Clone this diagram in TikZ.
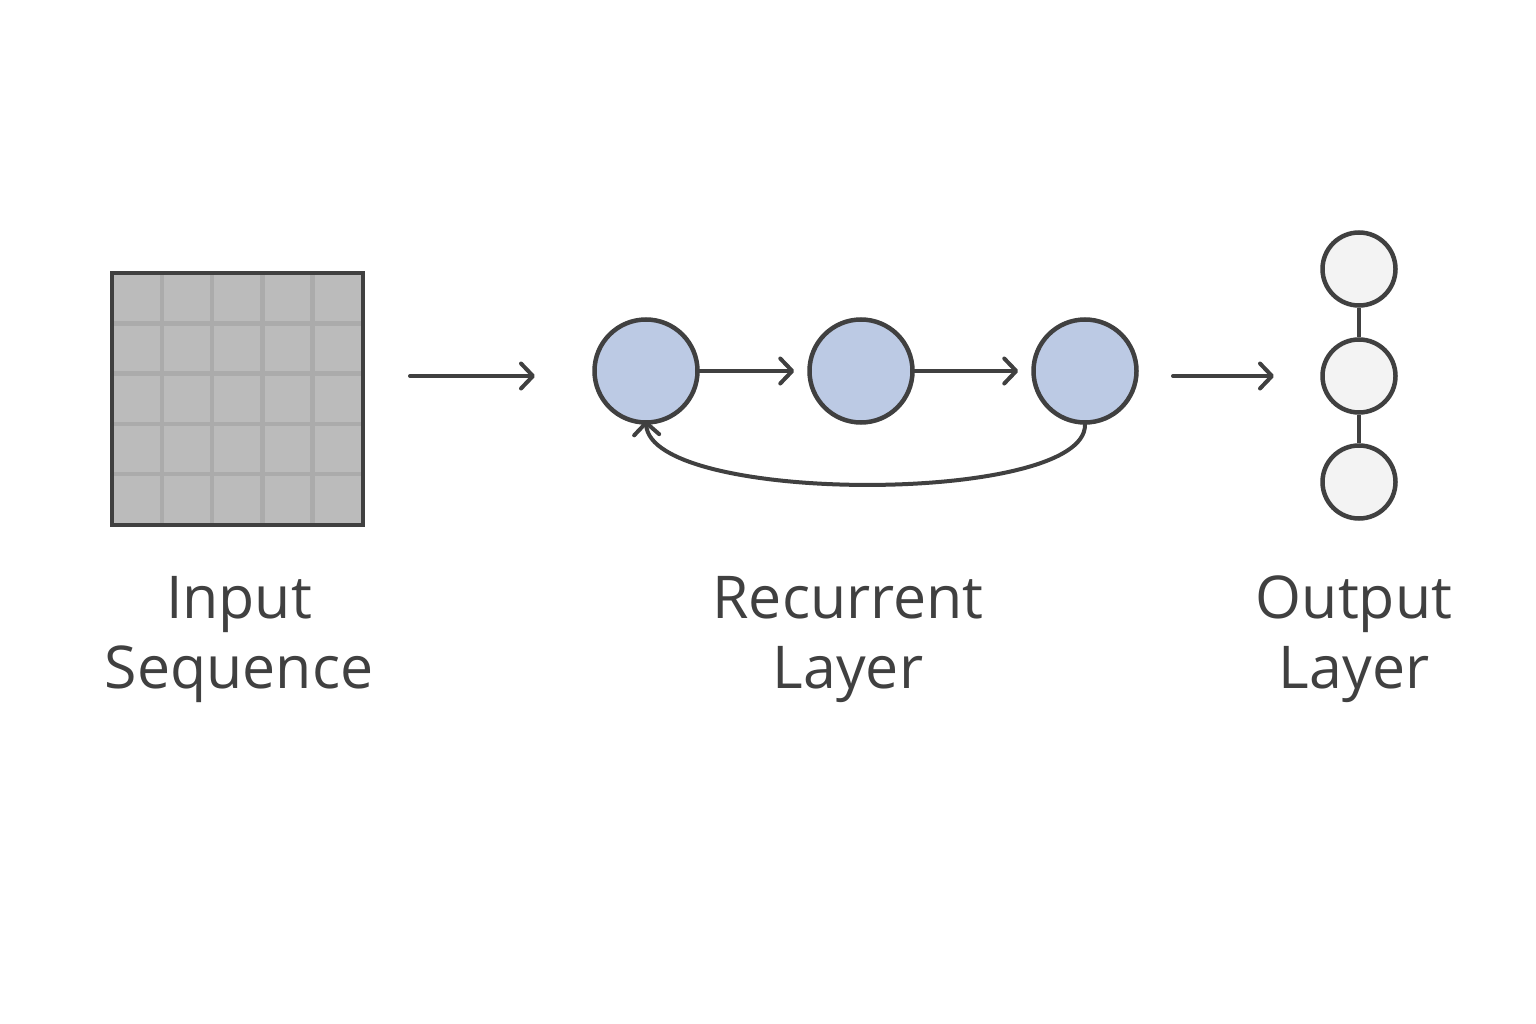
\documentclass[tikz,border=0pt]{standalone}
\usepackage{fontspec}
\setmainfont{Open Sans}
\usetikzlibrary{arrows.meta,calc}
\definecolor{ink}{HTML}{404040}
\definecolor{cellfill}{HTML}{BBBBBB}
\definecolor{cellline}{HTML}{ABABAB}
\definecolor{recfill}{HTML}{BCCAE4}
\definecolor{outfill}{HTML}{F3F3F3}
\tikzset{
  tip/.style={-{Straight Barb[length=12pt,width=25pt,line width=4pt,round]}},
  arr/.style={draw=ink, line width=4pt, line cap=round, tip},
  recnode/.style={circle, draw=ink, line width=4.5pt, fill=recfill, minimum size=103pt, inner sep=0pt},
  outnode/.style={circle, draw=ink, line width=4.5pt, fill=outfill, minimum size=73pt, inner sep=0pt},
  lbl/.style={text=ink, font=\fontsize{59}{70}\selectfont, align=center, inner sep=0pt},
}
\begin{document}
\begin{tikzpicture}[x=1pt,y=-1pt]
\useasboundingbox (0,0) rectangle (1536,1024);
\fill[white] (0,0) rectangle (1536,1024);
% grid
\node[fill=cellfill, minimum size=251pt, inner sep=0pt] (grid) at (237.5,399) {};
\foreach \i in {1,2,3,4}{
  \draw[cellline, line width=4.5pt] ($(grid.north west)+(\i*50.2,2)$) -- ($(grid.south west)+(\i*50.2,-2)$);
  \draw[cellline, line width=4.5pt] ($(grid.north west)+(2,\i*50.2)$) -- ($(grid.north east)+(-2,\i*50.2)$);
}
\draw[draw=ink, line width=4pt] (grid.north west) rectangle (grid.south east);
% arrow 1
\coordinate (a1s) at (410,376);
\coordinate (a1e) at (535,376);
\draw[arr] (a1s) -- (a1e);
% recurrent nodes
\node[recnode] (r1) at (646,371) {};
\node[recnode] (r2) at (861,371) {};
\node[recnode] (r3) at (1085,371) {};
\draw[arr, shorten >=13pt] (r1) -- (r2);
\draw[arr, shorten >=13pt] (r2) -- (r3);
\draw[arr]
  (r3.south) .. controls (1086,505) and (650,505) .. ([yshift=4pt]r1.south);
% arrow 3
\coordinate (a3s) at (1173,376);
\coordinate (a3e) at (1274,376);
\draw[arr] (a3s) -- (a3e);
% output nodes
\node[outnode] (o1) at (1359,269) {};
\node[outnode] (o2) at (1359,376) {};
\node[outnode] (o3) at (1359,482) {};
\draw[ink, line width=3.5pt] (o1) -- (o2);
\draw[ink, line width=3.5pt] (o2) -- (o3);
% labels
\node[lbl, anchor=base] (l1) at (239,688) {Input\\Sequence};
\node[lbl, anchor=base] (l2) at (848,688) {Recurrent\\Layer};
\node[lbl, anchor=base] (l3) at (1354,688) {Output\\Layer};
\end{tikzpicture}
\end{document}
